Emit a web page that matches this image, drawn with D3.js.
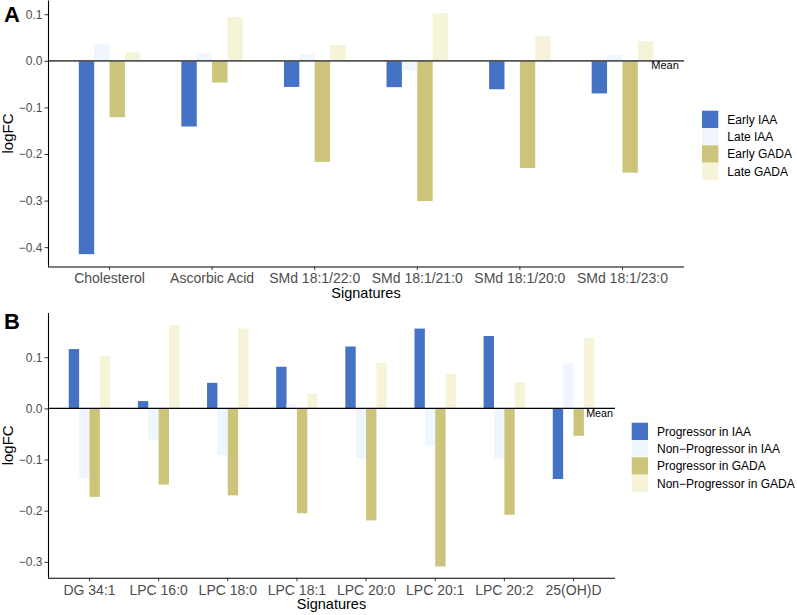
<!DOCTYPE html>
<html>
<head>
<meta charset="utf-8">
<script src="https://cdn.jsdelivr.net/npm/d3@7"></script>
<style>
  body { margin: 0; background: #fff; }
  svg { display: block; font-family: "Liberation Sans", Arial, sans-serif; }
</style>
</head>
<body>
<svg id="chart" width="797" height="615"></svg>
<script>
// ---- Panel A data ----
const categoriesA = ["Cholesterol", "Ascorbic Acid", "SMd 18:1/22:0", "SMd 18:1/21:0", "SMd 18:1/20:0", "SMd 18:1/23:0"];
const seriesA = ["Early IAA", "Late IAA", "Early GADA", "Late GADA"];
const earlyIAA  = [-0.415, -0.141, -0.056, -0.0565, -0.061, -0.070];
const lateIAA   = [0.037, 0.0165, 0.014, -0.021, -0.002, 0.013];
const earlyGADA = [-0.121, -0.0465, -0.217, -0.301, -0.230, -0.240];
const lateGADA  = [0.018, 0.094, 0.034, 0.102, 0.0536, 0.042];
const ticksA = [0.1, 0.0, -0.1, -0.2, -0.3, -0.4];

// ---- Panel B data ----
const categoriesB = ["DG 34:1", "LPC 16:0", "LPC 18:0", "LPC 18:1", "LPC 20:0", "LPC 20:1", "LPC 20:2", "25(OH)D"];
const seriesB = ["Progressor in IAA", "Non\u2212Progressor in IAA", "Progressor in GADA", "Non\u2212Progressor in GADA"];
const progIAA     = [0.116, 0.0143, 0.050, 0.0814, 0.121, 0.156, 0.1415, -0.138];
const nonProgIAA  = [-0.137, -0.061, -0.0914, 0.008, -0.098, -0.073, -0.098, 0.0886];
const progGADA    = [-0.173, -0.149, -0.170, -0.205, -0.219, -0.309, -0.208, -0.0536];
const nonProgGADA = [0.102, 0.163, 0.156, 0.029, 0.089, 0.0677, 0.051, 0.138];
const ticksB = [0.1, 0.0, -0.1, -0.2, -0.3];

const colors = ["#4472C4", "#F0F6FF", "#CCC47A", "#F5F3D8"];

const svg = d3.select("#chart");
const fmt = v => (v < 0 ? "\u2212" : "") + Math.abs(v).toFixed(1);

function panel(cfg) {
  const g = svg.append("g");
  const x = d3.scaleBand().domain(cfg.categories).range([cfg.left, cfg.right])
    .paddingInner(0).paddingOuter(0.1);
  const y = d3.scaleLinear().domain(cfg.yDomain).range([cfg.bottom, cfg.top]);
  const step = x.step();
  const inner = d3.scaleBand().domain(cfg.series).range([-0.3 * step, 0.3 * step]).padding(0);

  const rows = [];
  cfg.categories.forEach((c, i) => {
    cfg.values.forEach((arr, s) => rows.push({ c, s: cfg.series[s], v: arr[i], col: colors[s] }));
  });

  g.selectAll("rect.bar").data(rows).enter().append("rect")
    .attr("class", "bar")
    .attr("x", d => x(d.c) + step / 2 + inner(d.s))
    .attr("width", inner.bandwidth())
    .attr("y", d => y(Math.max(0, d.v)))
    .attr("height", d => Math.abs(y(d.v) - y(0)))
    .attr("fill", d => d.col);

  // zero line
  g.append("line")
    .attr("x1", cfg.left).attr("x2", cfg.right)
    .attr("y1", y(0)).attr("y2", y(0))
    .attr("stroke", cfg.zeroColor).attr("stroke-width", cfg.zeroWidth);

  // Mean label
  g.append("text")
    .attr("x", cfg.left + x.step() * cfg.meanPos)
    .attr("y", y(0) + cfg.meanDy)
    .attr("text-anchor", "end")
    .attr("font-size", cfg.meanSize)
    .attr("fill", "#000")
    .text("Mean");

  // y axis
  const yAxis = g.append("g").attr("transform", `translate(${cfg.left},0)`)
    .call(d3.axisLeft(y).tickValues(cfg.ticks).tickFormat(fmt).tickSize(3.5).tickPadding(2));
  yAxis.select(".domain").attr("stroke", "#000").attr("stroke-width", 1.1)
    .attr("d", `M0.5,${cfg.top}V${cfg.bottom}`);
  yAxis.selectAll(".tick line").attr("stroke", "#333");
  yAxis.selectAll(".tick text").attr("fill", "#4D4D4D").attr("font-size", 12)
    .attr("font-family", "Liberation Sans, Arial, sans-serif");

  // x axis
  const xAxis = g.append("g").attr("transform", `translate(0,${cfg.bottom})`)
    .call(d3.axisBottom(x).tickSize(3.5).tickPadding(2));
  xAxis.select(".domain").attr("stroke", "#000").attr("stroke-width", 1.1)
    .attr("d", `M${cfg.left},0.5H${cfg.right}`);
  xAxis.selectAll(".tick line").attr("stroke", "#333");
  xAxis.selectAll(".tick text").attr("fill", "#4D4D4D").attr("font-size", 14)
    .attr("font-family", "Liberation Sans, Arial, sans-serif")
    .attr("dy", null).attr("y", cfg.xTickBaseline);

  // axis titles
  g.append("text")
    .attr("x", (cfg.left + cfg.right) / 2).attr("y", cfg.bottom + cfg.xTitleBaseline)
    .attr("text-anchor", "middle").attr("font-size", 14.5).attr("fill", "#000")
    .text("Signatures");
  g.append("text")
    .attr("transform", `translate(13,${(cfg.top + cfg.bottom) / 2}) rotate(-90)`)
    .attr("text-anchor", "middle").attr("font-size", 15).attr("fill", "#000")
    .text("logFC");

  // panel tag
  g.append("text")
    .attr("x", 4).attr("y", cfg.tagY)
    .attr("font-size", 22).attr("font-weight", "bold").attr("fill", "#000")
    .text(cfg.tag);

  // legend
  const keyH = 17.3, keyW = 16.3;
  const leg = g.append("g").attr("transform", `translate(${cfg.legX},${cfg.legY})`);
  cfg.series.forEach((s, i) => {
    leg.append("rect").attr("x", 0).attr("y", i * keyH).attr("width", keyW).attr("height", keyH)
      .attr("fill", colors[i]);
    leg.append("text").attr("x", keyW + 9).attr("y", i * keyH + keyH / 2)
      .attr("dy", "0.36em").attr("font-size", 12).attr("fill", "#000").text(s);
  });
}

panel({
  tag: "A", tagY: 22,
  categories: categoriesA, series: seriesA,
  values: [earlyIAA, lateIAA, earlyGADA, lateGADA],
  ticks: ticksA,
  left: 48, right: 684, top: 0.5, bottom: 266.5,
  yDomain: [-0.4415, 0.1295],
  zeroColor: "#555", zeroWidth: 1.6,
  meanPos: 6.15, meanDy: 8.5, meanSize: 11,
  xTickBaseline: 16, xTitleBaseline: 31,
  legX: 702, legY: 110.7
});

panel({
  tag: "B", tagY: 328.5,
  categories: categoriesB, series: seriesB,
  values: [progIAA, nonProgIAA, progGADA, nonProgGADA],
  ticks: ticksB,
  left: 48, right: 615, top: 313, bottom: 577.7,
  yDomain: [-0.331, 0.1865],
  zeroColor: "#000", zeroWidth: 1.1,
  meanPos: 8.17, meanDy: 8.5, meanSize: 10.7,
  xTickBaseline: 17, xTitleBaseline: 31.5,
  legX: 631.7, legY: 422.7
});
</script>
</body>
</html>
